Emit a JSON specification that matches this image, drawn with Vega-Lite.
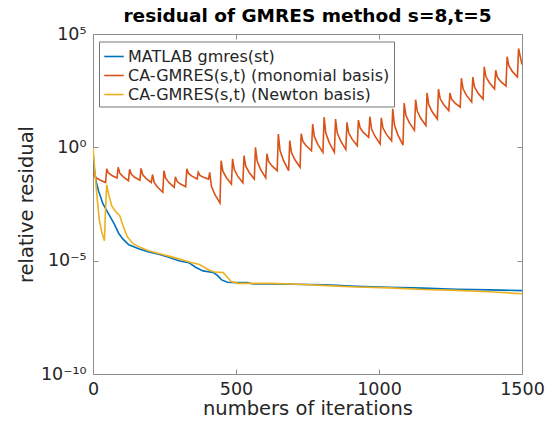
{
  "$schema": "https://vega.github.io/schema/vega-lite/v6.json",
  "autosize": "none",
  "width": 429,
  "height": 340,
  "padding": {"left": 93, "top": 34, "right": 32, "bottom": 49},
  "background": "white",
  "config": {
    "font": "DejaVu Sans",
    "view": {"stroke": "#8c8c8c", "strokeWidth": 1},
    "axis": {"grid": false, "domain": false}
  },
  "title": {
    "text": "residual of GMRES method s=8,t=5",
    "font": "DejaVu Sans",
    "fontSize": 18.5,
    "fontWeight": "bold",
    "color": "#000000",
    "anchor": "middle",
    "offset": 0
  },
  "data": {
    "values": [
      {"method": "MATLAB gmres(st)", "iteration": 0, "log10_residual": -0.2},
      {"method": "MATLAB gmres(st)", "iteration": 4, "log10_residual": -0.9},
      {"method": "MATLAB gmres(st)", "iteration": 11, "log10_residual": -1.5},
      {"method": "MATLAB gmres(st)", "iteration": 20, "log10_residual": -1.95},
      {"method": "MATLAB gmres(st)", "iteration": 35, "log10_residual": -2.5},
      {"method": "MATLAB gmres(st)", "iteration": 55, "log10_residual": -2.95},
      {"method": "MATLAB gmres(st)", "iteration": 75, "log10_residual": -3.4},
      {"method": "MATLAB gmres(st)", "iteration": 90, "log10_residual": -3.8},
      {"method": "MATLAB gmres(st)", "iteration": 105, "log10_residual": -4.05},
      {"method": "MATLAB gmres(st)", "iteration": 125, "log10_residual": -4.3},
      {"method": "MATLAB gmres(st)", "iteration": 160, "log10_residual": -4.47},
      {"method": "MATLAB gmres(st)", "iteration": 195, "log10_residual": -4.62},
      {"method": "MATLAB gmres(st)", "iteration": 230, "log10_residual": -4.72},
      {"method": "MATLAB gmres(st)", "iteration": 265, "log10_residual": -4.85},
      {"method": "MATLAB gmres(st)", "iteration": 300, "log10_residual": -5.0},
      {"method": "MATLAB gmres(st)", "iteration": 335, "log10_residual": -5.09},
      {"method": "MATLAB gmres(st)", "iteration": 360, "log10_residual": -5.3},
      {"method": "MATLAB gmres(st)", "iteration": 385, "log10_residual": -5.45},
      {"method": "MATLAB gmres(st)", "iteration": 420, "log10_residual": -5.52},
      {"method": "MATLAB gmres(st)", "iteration": 432, "log10_residual": -5.62},
      {"method": "MATLAB gmres(st)", "iteration": 450, "log10_residual": -5.85},
      {"method": "MATLAB gmres(st)", "iteration": 470, "log10_residual": -5.95},
      {"method": "MATLAB gmres(st)", "iteration": 500, "log10_residual": -5.97},
      {"method": "MATLAB gmres(st)", "iteration": 540, "log10_residual": -5.97},
      {"method": "MATLAB gmres(st)", "iteration": 560, "log10_residual": -6.03},
      {"method": "MATLAB gmres(st)", "iteration": 600, "log10_residual": -6.03},
      {"method": "MATLAB gmres(st)", "iteration": 700, "log10_residual": -6.04},
      {"method": "MATLAB gmres(st)", "iteration": 815, "log10_residual": -6.07},
      {"method": "MATLAB gmres(st)", "iteration": 920, "log10_residual": -6.13},
      {"method": "MATLAB gmres(st)", "iteration": 1037, "log10_residual": -6.17},
      {"method": "MATLAB gmres(st)", "iteration": 1153, "log10_residual": -6.21},
      {"method": "MATLAB gmres(st)", "iteration": 1270, "log10_residual": -6.26},
      {"method": "MATLAB gmres(st)", "iteration": 1386, "log10_residual": -6.29},
      {"method": "MATLAB gmres(st)", "iteration": 1500, "log10_residual": -6.32},

      {"method": "CA-GMRES(s,t) (monomial basis)", "iteration": 0, "log10_residual": -1.1},
      {"method": "CA-GMRES(s,t) (monomial basis)", "iteration": 8, "log10_residual": -1.32},
      {"method": "CA-GMRES(s,t) (monomial basis)", "iteration": 26, "log10_residual": -1.45},
      {"method": "CA-GMRES(s,t) (monomial basis)", "iteration": 44, "log10_residual": -1.55},
      {"method": "CA-GMRES(s,t) (monomial basis)", "iteration": 48, "log10_residual": -0.95},
      {"method": "CA-GMRES(s,t) (monomial basis)", "iteration": 54, "log10_residual": -1.13},
      {"method": "CA-GMRES(s,t) (monomial basis)", "iteration": 66, "log10_residual": -1.24},
      {"method": "CA-GMRES(s,t) (monomial basis)", "iteration": 84, "log10_residual": -1.35},
      {"method": "CA-GMRES(s,t) (monomial basis)", "iteration": 88, "log10_residual": -0.88},
      {"method": "CA-GMRES(s,t) (monomial basis)", "iteration": 94, "log10_residual": -1.15},
      {"method": "CA-GMRES(s,t) (monomial basis)", "iteration": 106, "log10_residual": -1.3},
      {"method": "CA-GMRES(s,t) (monomial basis)", "iteration": 124, "log10_residual": -1.47},
      {"method": "CA-GMRES(s,t) (monomial basis)", "iteration": 128, "log10_residual": -0.97},
      {"method": "CA-GMRES(s,t) (monomial basis)", "iteration": 134, "log10_residual": -1.19},
      {"method": "CA-GMRES(s,t) (monomial basis)", "iteration": 146, "log10_residual": -1.32},
      {"method": "CA-GMRES(s,t) (monomial basis)", "iteration": 164, "log10_residual": -1.45},
      {"method": "CA-GMRES(s,t) (monomial basis)", "iteration": 168, "log10_residual": -0.93},
      {"method": "CA-GMRES(s,t) (monomial basis)", "iteration": 174, "log10_residual": -1.21},
      {"method": "CA-GMRES(s,t) (monomial basis)", "iteration": 186, "log10_residual": -1.38},
      {"method": "CA-GMRES(s,t) (monomial basis)", "iteration": 204, "log10_residual": -1.55},
      {"method": "CA-GMRES(s,t) (monomial basis)", "iteration": 208, "log10_residual": -1.2},
      {"method": "CA-GMRES(s,t) (monomial basis)", "iteration": 214, "log10_residual": -1.55},
      {"method": "CA-GMRES(s,t) (monomial basis)", "iteration": 226, "log10_residual": -1.76},
      {"method": "CA-GMRES(s,t) (monomial basis)", "iteration": 244, "log10_residual": -1.98},
      {"method": "CA-GMRES(s,t) (monomial basis)", "iteration": 248, "log10_residual": -1.03},
      {"method": "CA-GMRES(s,t) (monomial basis)", "iteration": 254, "log10_residual": -1.36},
      {"method": "CA-GMRES(s,t) (monomial basis)", "iteration": 266, "log10_residual": -1.56},
      {"method": "CA-GMRES(s,t) (monomial basis)", "iteration": 284, "log10_residual": -1.77},
      {"method": "CA-GMRES(s,t) (monomial basis)", "iteration": 288, "log10_residual": -1.3},
      {"method": "CA-GMRES(s,t) (monomial basis)", "iteration": 294, "log10_residual": -1.5},
      {"method": "CA-GMRES(s,t) (monomial basis)", "iteration": 306, "log10_residual": -1.62},
      {"method": "CA-GMRES(s,t) (monomial basis)", "iteration": 324, "log10_residual": -1.74},
      {"method": "CA-GMRES(s,t) (monomial basis)", "iteration": 328, "log10_residual": -0.95},
      {"method": "CA-GMRES(s,t) (monomial basis)", "iteration": 334, "log10_residual": -1.15},
      {"method": "CA-GMRES(s,t) (monomial basis)", "iteration": 346, "log10_residual": -1.27},
      {"method": "CA-GMRES(s,t) (monomial basis)", "iteration": 364, "log10_residual": -1.4},
      {"method": "CA-GMRES(s,t) (monomial basis)", "iteration": 368, "log10_residual": -1.1},
      {"method": "CA-GMRES(s,t) (monomial basis)", "iteration": 374, "log10_residual": -1.24},
      {"method": "CA-GMRES(s,t) (monomial basis)", "iteration": 386, "log10_residual": -1.32},
      {"method": "CA-GMRES(s,t) (monomial basis)", "iteration": 404, "log10_residual": -1.4},
      {"method": "CA-GMRES(s,t) (monomial basis)", "iteration": 408, "log10_residual": -1.1},
      {"method": "CA-GMRES(s,t) (monomial basis)", "iteration": 414, "log10_residual": -1.71},
      {"method": "CA-GMRES(s,t) (monomial basis)", "iteration": 426, "log10_residual": -2.08},
      {"method": "CA-GMRES(s,t) (monomial basis)", "iteration": 444, "log10_residual": -2.46},
      {"method": "CA-GMRES(s,t) (monomial basis)", "iteration": 448, "log10_residual": -0.59},
      {"method": "CA-GMRES(s,t) (monomial basis)", "iteration": 454, "log10_residual": -1.05},
      {"method": "CA-GMRES(s,t) (monomial basis)", "iteration": 466, "log10_residual": -1.33},
      {"method": "CA-GMRES(s,t) (monomial basis)", "iteration": 484, "log10_residual": -1.62},
      {"method": "CA-GMRES(s,t) (monomial basis)", "iteration": 488, "log10_residual": -0.51},
      {"method": "CA-GMRES(s,t) (monomial basis)", "iteration": 494, "log10_residual": -0.98},
      {"method": "CA-GMRES(s,t) (monomial basis)", "iteration": 506, "log10_residual": -1.27},
      {"method": "CA-GMRES(s,t) (monomial basis)", "iteration": 524, "log10_residual": -1.56},
      {"method": "CA-GMRES(s,t) (monomial basis)", "iteration": 528, "log10_residual": -0.37},
      {"method": "CA-GMRES(s,t) (monomial basis)", "iteration": 534, "log10_residual": -0.83},
      {"method": "CA-GMRES(s,t) (monomial basis)", "iteration": 546, "log10_residual": -1.11},
      {"method": "CA-GMRES(s,t) (monomial basis)", "iteration": 564, "log10_residual": -1.4},
      {"method": "CA-GMRES(s,t) (monomial basis)", "iteration": 568, "log10_residual": 0.0},
      {"method": "CA-GMRES(s,t) (monomial basis)", "iteration": 574, "log10_residual": -0.61},
      {"method": "CA-GMRES(s,t) (monomial basis)", "iteration": 586, "log10_residual": -0.97},
      {"method": "CA-GMRES(s,t) (monomial basis)", "iteration": 604, "log10_residual": -1.35},
      {"method": "CA-GMRES(s,t) (monomial basis)", "iteration": 608, "log10_residual": -0.28},
      {"method": "CA-GMRES(s,t) (monomial basis)", "iteration": 614, "log10_residual": -0.62},
      {"method": "CA-GMRES(s,t) (monomial basis)", "iteration": 626, "log10_residual": -0.82},
      {"method": "CA-GMRES(s,t) (monomial basis)", "iteration": 644, "log10_residual": -1.03},
      {"method": "CA-GMRES(s,t) (monomial basis)", "iteration": 648, "log10_residual": 0.59},
      {"method": "CA-GMRES(s,t) (monomial basis)", "iteration": 654, "log10_residual": -0.14},
      {"method": "CA-GMRES(s,t) (monomial basis)", "iteration": 666, "log10_residual": -0.58},
      {"method": "CA-GMRES(s,t) (monomial basis)", "iteration": 684, "log10_residual": -1.03},
      {"method": "CA-GMRES(s,t) (monomial basis)", "iteration": 688, "log10_residual": 0.3},
      {"method": "CA-GMRES(s,t) (monomial basis)", "iteration": 694, "log10_residual": -0.23},
      {"method": "CA-GMRES(s,t) (monomial basis)", "iteration": 706, "log10_residual": -0.55},
      {"method": "CA-GMRES(s,t) (monomial basis)", "iteration": 724, "log10_residual": -0.88},
      {"method": "CA-GMRES(s,t) (monomial basis)", "iteration": 728, "log10_residual": 0.6},
      {"method": "CA-GMRES(s,t) (monomial basis)", "iteration": 734, "log10_residual": 0.26},
      {"method": "CA-GMRES(s,t) (monomial basis)", "iteration": 746, "log10_residual": 0.06},
      {"method": "CA-GMRES(s,t) (monomial basis)", "iteration": 764, "log10_residual": -0.15},
      {"method": "CA-GMRES(s,t) (monomial basis)", "iteration": 768, "log10_residual": 1.03},
      {"method": "CA-GMRES(s,t) (monomial basis)", "iteration": 774, "log10_residual": 0.47},
      {"method": "CA-GMRES(s,t) (monomial basis)", "iteration": 786, "log10_residual": 0.13},
      {"method": "CA-GMRES(s,t) (monomial basis)", "iteration": 804, "log10_residual": -0.22},
      {"method": "CA-GMRES(s,t) (monomial basis)", "iteration": 808, "log10_residual": 1.33},
      {"method": "CA-GMRES(s,t) (monomial basis)", "iteration": 814, "log10_residual": 0.63},
      {"method": "CA-GMRES(s,t) (monomial basis)", "iteration": 826, "log10_residual": 0.21},
      {"method": "CA-GMRES(s,t) (monomial basis)", "iteration": 844, "log10_residual": -0.22},
      {"method": "CA-GMRES(s,t) (monomial basis)", "iteration": 848, "log10_residual": 1.25},
      {"method": "CA-GMRES(s,t) (monomial basis)", "iteration": 854, "log10_residual": 0.64},
      {"method": "CA-GMRES(s,t) (monomial basis)", "iteration": 866, "log10_residual": 0.28},
      {"method": "CA-GMRES(s,t) (monomial basis)", "iteration": 884, "log10_residual": -0.1},
      {"method": "CA-GMRES(s,t) (monomial basis)", "iteration": 888, "log10_residual": 1.1},
      {"method": "CA-GMRES(s,t) (monomial basis)", "iteration": 894, "log10_residual": 0.64},
      {"method": "CA-GMRES(s,t) (monomial basis)", "iteration": 906, "log10_residual": 0.36},
      {"method": "CA-GMRES(s,t) (monomial basis)", "iteration": 924, "log10_residual": 0.07},
      {"method": "CA-GMRES(s,t) (monomial basis)", "iteration": 928, "log10_residual": 1.2},
      {"method": "CA-GMRES(s,t) (monomial basis)", "iteration": 934, "log10_residual": 0.86},
      {"method": "CA-GMRES(s,t) (monomial basis)", "iteration": 946, "log10_residual": 0.65},
      {"method": "CA-GMRES(s,t) (monomial basis)", "iteration": 964, "log10_residual": 0.44},
      {"method": "CA-GMRES(s,t) (monomial basis)", "iteration": 968, "log10_residual": 1.35},
      {"method": "CA-GMRES(s,t) (monomial basis)", "iteration": 974, "log10_residual": 0.81},
      {"method": "CA-GMRES(s,t) (monomial basis)", "iteration": 986, "log10_residual": 0.49},
      {"method": "CA-GMRES(s,t) (monomial basis)", "iteration": 1004, "log10_residual": 0.15},
      {"method": "CA-GMRES(s,t) (monomial basis)", "iteration": 1008, "log10_residual": 1.3},
      {"method": "CA-GMRES(s,t) (monomial basis)", "iteration": 1014, "log10_residual": 0.85},
      {"method": "CA-GMRES(s,t) (monomial basis)", "iteration": 1026, "log10_residual": 0.57},
      {"method": "CA-GMRES(s,t) (monomial basis)", "iteration": 1044, "log10_residual": 0.29},
      {"method": "CA-GMRES(s,t) (monomial basis)", "iteration": 1048, "log10_residual": 1.7},
      {"method": "CA-GMRES(s,t) (monomial basis)", "iteration": 1054, "log10_residual": 0.98},
      {"method": "CA-GMRES(s,t) (monomial basis)", "iteration": 1066, "log10_residual": 0.55},
      {"method": "CA-GMRES(s,t) (monomial basis)", "iteration": 1084, "log10_residual": 0.1},
      {"method": "CA-GMRES(s,t) (monomial basis)", "iteration": 1088, "log10_residual": 1.95},
      {"method": "CA-GMRES(s,t) (monomial basis)", "iteration": 1094, "log10_residual": 1.41},
      {"method": "CA-GMRES(s,t) (monomial basis)", "iteration": 1106, "log10_residual": 1.09},
      {"method": "CA-GMRES(s,t) (monomial basis)", "iteration": 1124, "log10_residual": 0.75},
      {"method": "CA-GMRES(s,t) (monomial basis)", "iteration": 1128, "log10_residual": 2.1},
      {"method": "CA-GMRES(s,t) (monomial basis)", "iteration": 1134, "log10_residual": 1.59},
      {"method": "CA-GMRES(s,t) (monomial basis)", "iteration": 1146, "log10_residual": 1.28},
      {"method": "CA-GMRES(s,t) (monomial basis)", "iteration": 1164, "log10_residual": 0.96},
      {"method": "CA-GMRES(s,t) (monomial basis)", "iteration": 1168, "log10_residual": 2.4},
      {"method": "CA-GMRES(s,t) (monomial basis)", "iteration": 1174, "log10_residual": 1.88},
      {"method": "CA-GMRES(s,t) (monomial basis)", "iteration": 1186, "log10_residual": 1.57},
      {"method": "CA-GMRES(s,t) (monomial basis)", "iteration": 1204, "log10_residual": 1.25},
      {"method": "CA-GMRES(s,t) (monomial basis)", "iteration": 1208, "log10_residual": 2.57},
      {"method": "CA-GMRES(s,t) (monomial basis)", "iteration": 1214, "log10_residual": 2.14},
      {"method": "CA-GMRES(s,t) (monomial basis)", "iteration": 1226, "log10_residual": 1.89},
      {"method": "CA-GMRES(s,t) (monomial basis)", "iteration": 1244, "log10_residual": 1.62},
      {"method": "CA-GMRES(s,t) (monomial basis)", "iteration": 1248, "log10_residual": 2.4},
      {"method": "CA-GMRES(s,t) (monomial basis)", "iteration": 1254, "log10_residual": 2.12},
      {"method": "CA-GMRES(s,t) (monomial basis)", "iteration": 1266, "log10_residual": 1.95},
      {"method": "CA-GMRES(s,t) (monomial basis)", "iteration": 1284, "log10_residual": 1.77},
      {"method": "CA-GMRES(s,t) (monomial basis)", "iteration": 1288, "log10_residual": 3.05},
      {"method": "CA-GMRES(s,t) (monomial basis)", "iteration": 1294, "log10_residual": 2.58},
      {"method": "CA-GMRES(s,t) (monomial basis)", "iteration": 1306, "log10_residual": 2.29},
      {"method": "CA-GMRES(s,t) (monomial basis)", "iteration": 1324, "log10_residual": 2.0},
      {"method": "CA-GMRES(s,t) (monomial basis)", "iteration": 1328, "log10_residual": 3.1},
      {"method": "CA-GMRES(s,t) (monomial basis)", "iteration": 1334, "log10_residual": 2.66},
      {"method": "CA-GMRES(s,t) (monomial basis)", "iteration": 1346, "log10_residual": 2.4},
      {"method": "CA-GMRES(s,t) (monomial basis)", "iteration": 1364, "log10_residual": 2.13},
      {"method": "CA-GMRES(s,t) (monomial basis)", "iteration": 1368, "log10_residual": 3.55},
      {"method": "CA-GMRES(s,t) (monomial basis)", "iteration": 1374, "log10_residual": 3.11},
      {"method": "CA-GMRES(s,t) (monomial basis)", "iteration": 1386, "log10_residual": 2.85},
      {"method": "CA-GMRES(s,t) (monomial basis)", "iteration": 1404, "log10_residual": 2.58},
      {"method": "CA-GMRES(s,t) (monomial basis)", "iteration": 1408, "log10_residual": 3.4},
      {"method": "CA-GMRES(s,t) (monomial basis)", "iteration": 1414, "log10_residual": 3.09},
      {"method": "CA-GMRES(s,t) (monomial basis)", "iteration": 1426, "log10_residual": 2.9},
      {"method": "CA-GMRES(s,t) (monomial basis)", "iteration": 1444, "log10_residual": 2.7},
      {"method": "CA-GMRES(s,t) (monomial basis)", "iteration": 1448, "log10_residual": 4.0},
      {"method": "CA-GMRES(s,t) (monomial basis)", "iteration": 1454, "log10_residual": 3.6},
      {"method": "CA-GMRES(s,t) (monomial basis)", "iteration": 1466, "log10_residual": 3.35},
      {"method": "CA-GMRES(s,t) (monomial basis)", "iteration": 1484, "log10_residual": 3.1},
      {"method": "CA-GMRES(s,t) (monomial basis)", "iteration": 1488, "log10_residual": 4.36},
      {"method": "CA-GMRES(s,t) (monomial basis)", "iteration": 1494, "log10_residual": 4.0},
      {"method": "CA-GMRES(s,t) (monomial basis)", "iteration": 1500, "log10_residual": 3.65},

      {"method": "CA-GMRES(s,t) (Newton basis)", "iteration": 0, "log10_residual": 0.0},
      {"method": "CA-GMRES(s,t) (Newton basis)", "iteration": 5, "log10_residual": -0.8},
      {"method": "CA-GMRES(s,t) (Newton basis)", "iteration": 12, "log10_residual": -1.9},
      {"method": "CA-GMRES(s,t) (Newton basis)", "iteration": 22, "log10_residual": -3.2},
      {"method": "CA-GMRES(s,t) (Newton basis)", "iteration": 30, "log10_residual": -3.7},
      {"method": "CA-GMRES(s,t) (Newton basis)", "iteration": 40, "log10_residual": -4.12},
      {"method": "CA-GMRES(s,t) (Newton basis)", "iteration": 43, "log10_residual": -3.0},
      {"method": "CA-GMRES(s,t) (Newton basis)", "iteration": 48, "log10_residual": -1.65},
      {"method": "CA-GMRES(s,t) (Newton basis)", "iteration": 55, "log10_residual": -2.1},
      {"method": "CA-GMRES(s,t) (Newton basis)", "iteration": 66, "log10_residual": -2.6},
      {"method": "CA-GMRES(s,t) (Newton basis)", "iteration": 80, "log10_residual": -2.85},
      {"method": "CA-GMRES(s,t) (Newton basis)", "iteration": 93, "log10_residual": -3.0},
      {"method": "CA-GMRES(s,t) (Newton basis)", "iteration": 106, "log10_residual": -3.5},
      {"method": "CA-GMRES(s,t) (Newton basis)", "iteration": 120, "log10_residual": -3.95},
      {"method": "CA-GMRES(s,t) (Newton basis)", "iteration": 140, "log10_residual": -4.25},
      {"method": "CA-GMRES(s,t) (Newton basis)", "iteration": 160, "log10_residual": -4.38},
      {"method": "CA-GMRES(s,t) (Newton basis)", "iteration": 194, "log10_residual": -4.56},
      {"method": "CA-GMRES(s,t) (Newton basis)", "iteration": 230, "log10_residual": -4.68},
      {"method": "CA-GMRES(s,t) (Newton basis)", "iteration": 265, "log10_residual": -4.8},
      {"method": "CA-GMRES(s,t) (Newton basis)", "iteration": 300, "log10_residual": -4.92},
      {"method": "CA-GMRES(s,t) (Newton basis)", "iteration": 337, "log10_residual": -5.06},
      {"method": "CA-GMRES(s,t) (Newton basis)", "iteration": 372, "log10_residual": -5.17},
      {"method": "CA-GMRES(s,t) (Newton basis)", "iteration": 407, "log10_residual": -5.42},
      {"method": "CA-GMRES(s,t) (Newton basis)", "iteration": 425, "log10_residual": -5.5},
      {"method": "CA-GMRES(s,t) (Newton basis)", "iteration": 455, "log10_residual": -5.52},
      {"method": "CA-GMRES(s,t) (Newton basis)", "iteration": 483, "log10_residual": -5.92},
      {"method": "CA-GMRES(s,t) (Newton basis)", "iteration": 506, "log10_residual": -6.0},
      {"method": "CA-GMRES(s,t) (Newton basis)", "iteration": 617, "log10_residual": -6.0},
      {"method": "CA-GMRES(s,t) (Newton basis)", "iteration": 722, "log10_residual": -6.04},
      {"method": "CA-GMRES(s,t) (Newton basis)", "iteration": 815, "log10_residual": -6.1},
      {"method": "CA-GMRES(s,t) (Newton basis)", "iteration": 920, "log10_residual": -6.16},
      {"method": "CA-GMRES(s,t) (Newton basis)", "iteration": 1037, "log10_residual": -6.2},
      {"method": "CA-GMRES(s,t) (Newton basis)", "iteration": 1153, "log10_residual": -6.27},
      {"method": "CA-GMRES(s,t) (Newton basis)", "iteration": 1270, "log10_residual": -6.31},
      {"method": "CA-GMRES(s,t) (Newton basis)", "iteration": 1386, "log10_residual": -6.37},
      {"method": "CA-GMRES(s,t) (Newton basis)", "iteration": 1500, "log10_residual": -6.46}
    ]
  },
  "layer": [
    {
      "mark": {"type": "line", "strokeWidth": 1.6, "clip": true},
      "encoding": {
        "x": {
          "field": "iteration",
          "type": "quantitative",
          "scale": {"domain": [0, 1500], "nice": false, "zero": false},
          "axis": {
            "orient": "bottom",
            "values": [0, 500, 1000, 1500],
            "format": "d",
            "title": "numbers of iterations",
            "titleFont": "DejaVu Sans",
            "titleFontSize": 19.5,
            "titleFontWeight": "normal",
            "titleColor": "#262626",
            "titlePadding": 2,
            "labelFont": "DejaVu Sans",
            "labelFontSize": 17.5,
            "labelColor": "#262626",
            "labelPadding": 11,
            "labelFlush": false,
            "labelOverlap": false,
            "tickSize": -5,
            "tickColor": "#8c8c8c",
            "domain": false,
            "grid": false
          }
        },
        "y": {
          "field": "log10_residual",
          "type": "quantitative",
          "scale": {"domain": [-10, 5], "nice": false, "zero": false},
          "axis": {
            "orient": "left",
            "values": [-10, -5, 0, 5],
            "labelExpr": "datum.value == 5 ? '10⁵' : datum.value == 0 ? '10⁰' : datum.value == -5 ? '10⁻⁵' : '10⁻¹⁰'",
            "title": "relative residual",
            "titleFont": "DejaVu Sans",
            "titleFontSize": 19.5,
            "titleFontWeight": "normal",
            "titleColor": "#262626",
            "titlePadding": 4,
            "labelFont": "DejaVu Sans",
            "labelFontSize": 17.5,
            "labelColor": "#262626",
            "labelPadding": 12,
            "labelFlush": false,
            "labelOverlap": false,
            "tickSize": -5,
            "tickColor": "#8c8c8c",
            "domain": false,
            "grid": false
          }
        },
        "color": {
          "field": "method",
          "type": "nominal",
          "scale": {
            "domain": ["MATLAB gmres(st)", "CA-GMRES(s,t) (monomial basis)", "CA-GMRES(s,t) (Newton basis)"],
            "range": ["#0072BD", "#D95319", "#EDB120"]
          },
          "legend": {
            "orient": "none",
            "legendX": 6,
            "legendY": 7.5,
            "title": null,
            "symbolType": "stroke",
            "symbolSize": 380,
            "symbolStrokeWidth": 1.6,
            "labelFont": "DejaVu Sans",
            "labelFontSize": 16,
            "labelColor": "#262626",
            "labelOffset": 3,
            "labelLimit": 400,
            "strokeColor": "#777777",
            "fillColor": "white",
            "padding": 4,
            "rowPadding": 0
          }
        }
      }
    },
    {
      "mark": {"type": "line", "opacity": 0},
      "encoding": {
        "x": {
          "field": "iteration",
          "type": "quantitative",
          "axis": {
            "orient": "top",
            "values": [0, 500, 1000, 1500],
            "labels": false,
            "title": null,
            "tickSize": -5,
            "tickColor": "#8c8c8c",
            "domain": false,
            "grid": false
          }
        },
        "y": {
          "field": "log10_residual",
          "type": "quantitative",
          "axis": {
            "orient": "right",
            "values": [-10, -5, 0, 5],
            "labels": false,
            "title": null,
            "tickSize": -5,
            "tickColor": "#8c8c8c",
            "domain": false,
            "grid": false
          }
        },
        "detail": {"field": "method", "type": "nominal"}
      }
    }
  ],
  "resolve": {"axis": {"x": "independent", "y": "independent"}}
}
